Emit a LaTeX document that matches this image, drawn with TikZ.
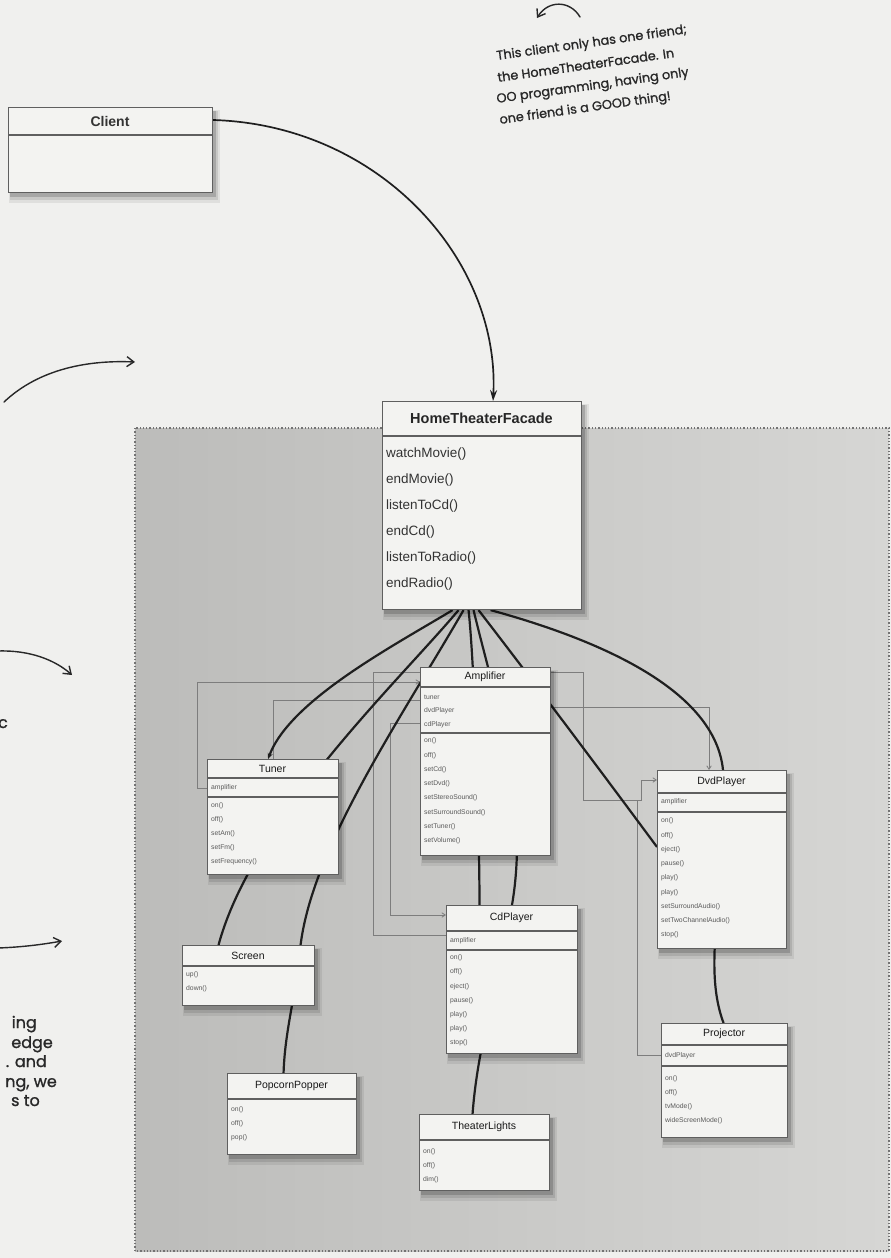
\documentclass[tikz,border=0pt]{standalone}
\usepackage{fontspec}
\setmainfont{Liberation Sans}
\newfontfamily\handfont[FakeBold=1.2]{Poppins}
\usetikzlibrary{arrows.meta,calc}
\definecolor{pagebg}{RGB}{240,240,238}
\definecolor{panelL}{RGB}{188,188,186}
\definecolor{panelR}{RGB}{214,214,212}
\definecolor{boxfill}{RGB}{243,243,241}
\definecolor{boxline}{RGB}{95,95,95}
\definecolor{depline}{RGB}{125,125,125}
\definecolor{inkc}{RGB}{40,40,40}
\pgfdeclarelayer{bg}
\pgfdeclarelayer{conn}
\pgfsetlayers{bg,conn,main}

% #1 name, #2 x, #3 y(top), #4 width, #5 height, #6 header height, #7 title, #8 title style
\newcommand\mkclass[8]{%
  \fill[black, opacity=0.07] ({#2+1},{#3+3}) rectangle ({#2+#4+8},{#3+#5+11});
  \fill[black, opacity=0.10] ({#2+2},{#3+4}) rectangle ({#2+#4+6},{#3+#5+8});
  \fill[black, opacity=0.16] ({#2+2},{#3+4}) rectangle ({#2+#4+4},{#3+#5+5});
  \node[ubox, anchor=north west, minimum width=#4pt, minimum height=#5pt] (#1) at (#2,#3) {};
  \node[#8] (#1-t) at ({#2+#4/2},{#3+#6/2}) {#7};
  \draw[sepline] (#2,{#3+#6}) -- ({#2+#4},{#3+#6});
}
\newcommand\mkmem[6]{%
  \foreach \m [count=\i] in {#6} \node[#5] (#1-\i) at (#2,{#3+(\i-1)*#4}) {\m};
}

\begin{document}
\begin{tikzpicture}[x=1pt,y=-1pt,
  ubox/.style={draw=boxline, line width=1.1pt, fill=boxfill, rectangle, inner sep=0pt},
  sepline/.style={draw=boxline, line width=1.1pt},
  stitle/.style={inner sep=0pt, font=\fontsize{10.5}{11}\selectfont, text=black!90},
  btitle/.style={inner sep=0pt, font=\fontsize{14.5}{15}\bfseries\selectfont, text=black!85},
  ctitle/.style={inner sep=0pt, font=\fontsize{14}{15}\bfseries\selectfont, text=black!80},
  mem/.style={anchor=west, inner sep=0pt, font=\fontsize{6.8}{7}\selectfont, text=black!65},
  fmem/.style={anchor=west, inner sep=0pt, font=\fontsize{13.5}{14}\selectfont, text=black!80},
  assoc/.style={draw=black!88, line width=2.2pt},
  dep/.style={draw=depline, line width=0.8pt},
  deparr/.style={dep, -{Straight Barb[length=3.5pt,width=4.5pt]}},
  handarr/.style={draw=inkc, line width=1.4pt, line cap=round, -{Straight Barb[length=7pt,width=10pt,line width=1.4pt]}},
  hand/.style={inner sep=0pt, font=\handfont\fontsize{12.8}{14}\selectfont, text=inkc, rotate=8, anchor=base west},
  handbig/.style={inner sep=0pt, font=\handfont\fontsize{16}{17}\selectfont, text=inkc, anchor=base east}
]
\useasboundingbox (0,0) rectangle (891,1258);
\begin{pgfonlayer}{bg}
  \fill[pagebg] (0,0) rectangle (891,1258);
  \shade[left color=panelL, right color=panelR] (135,428) rectangle (889,1251);
  \draw[black!55, line width=1.3pt, dotted] (135,428) rectangle (889,1251);
\end{pgfonlayer}

% ---------- classes ----------
\mkclass{client}{8}{107}{204}{85}{28}{Client}{ctitle}
\mkclass{fac}{382}{401}{199}{208}{35}{HomeTheaterFacade}{btitle}
\mkmem{fac-m}{386}{454}{26}{fmem}{watchMovie(),endMovie(),listenToCd(),endCd(),listenToRadio(),endRadio()}

\mkclass{amp}{420}{667}{130}{188}{20}{Amplifier}{stitle}
\mkmem{amp-a}{424}{697}{14}{mem}{tuner,dvdPlayer,cdPlayer}
\draw[sepline] (420,733) -- (550,733);
\mkmem{amp-m}{424}{741}{14.3}{mem}{on(),off(),setCd(),setDvd(),setStereoSound(),setSurroundSound(),setTuner(),setVolume()}

\mkclass{tuner}{207}{759}{131}{115}{19}{Tuner}{stitle}
\mkmem{tuner-a}{211}{788}{14}{mem}{amplifier}
\draw[sepline] (207,797) -- (338,797);
\mkmem{tuner-m}{211}{806}{14}{mem}{on(),off(),setAm(),setFm(),setFrequency()}

\mkclass{dvd}{657}{770}{129}{178}{23}{DvdPlayer}{stitle}
\mkmem{dvd-a}{661}{802}{14}{mem}{amplifier}
\draw[sepline] (657,812) -- (786,812);
\mkmem{dvd-m}{661}{821}{14.25}{mem}{on(),off(),eject(),pause(),play(),play(),setSurroundAudio(),setTwoChannelAudio(),stop()}

\mkclass{cd}{446}{905}{131}{148}{26}{CdPlayer}{stitle}
\mkmem{cd-a}{450}{941}{14}{mem}{amplifier}
\draw[sepline] (446,950) -- (577,950);
\mkmem{cd-m}{450}{958}{14.2}{mem}{on(),off(),eject(),pause(),play(),play(),stop()}

\mkclass{screen}{182}{945}{132}{60}{21}{Screen}{stitle}
\mkmem{screen-m}{186}{975}{14}{mem}{up(),down()}

\mkclass{pop}{227}{1073}{129}{81}{26}{PopcornPopper}{stitle}
\mkmem{pop-m}{231}{1110}{14}{mem}{on(),off(),pop()}

\mkclass{lights}{419}{1114}{130}{76}{26}{TheaterLights}{stitle}
\mkmem{lights-m}{423}{1152}{14}{mem}{on(),off(),dim()}

\mkclass{proj}{661}{1023}{126}{114}{22}{Projector}{stitle}
\mkmem{proj-a}{665}{1056}{14}{mem}{dvdPlayer}
\draw[sepline] (661,1066) -- (787,1066);
\mkmem{proj-m}{665}{1079}{14}{mem}{on(),off(),tvMode(),wideScreenMode()}

% ---------- connectors ----------
\begin{pgfonlayer}{conn}
  % thin dependency lines
  \draw[deparr] ($(tuner.north west)+(0,29)$) -- ++(-10,0) |- ($(amp.north west)+(0,15)$);
  \draw[dep] ($(amp.north west)+(0,33)$) -| (tuner.north);
  \draw[dep] ($(cd.north west)+(0,30)$) -- ++(-73,0) |- ($(amp.north west)+(0,5)$);
  \draw[deparr] ($(amp.north west)+(0,56)$) -- ++(-30,0) |- ($(cd.north west)+(0,10)$);
  \draw[deparr] ($(amp.north east)+(0,5)$) -- ++(32,0) -- ++(0,128) -- ++(58,0) |- ($(dvd.north west)+(0,10)$);
  \draw[deparr] ($(amp.north east)+(0,40)$) -| ([xshift=-13pt]dvd.north);
  \draw[dep] ($(proj.north west)+(0,32)$) -- ++(-24,0) -- ++(0,-255) coordinate (projend);

  % client to facade
  \draw[assoc, line width=1.7pt, -{Stealth[length=11pt,width=7pt]}] ($(client.north east)+(0,13)$) .. controls (380,125) and (500,260) .. ([xshift=11pt]fac.north);

  % facade associations
  \draw[assoc, -{Stealth[length=6pt,width=5pt]}] ([xshift=-29.5pt]fac.south) .. controls (395,645) and (290,700) .. ([xshift=-5pt]tuner.north);
  \draw[assoc] ([xshift=-23.5pt]fac.south) .. controls (400,680) and (252,820) .. ([xshift=-30pt]screen.north);
  \draw[assoc] ([xshift=-18.5pt]fac.south) .. controls (400,720) and (310,850) .. (300,950) .. controls (295,1000) and (285,1030) .. ([xshift=-8.5pt]pop.north);
  \draw[assoc] ([xshift=-13.5pt]fac.south) .. controls (474,660) and (479,800) .. ([xshift=-32.5pt]cd.north);
  \draw[assoc] ([xshift=-8.5pt]fac.south) .. controls (495,700) and (530,800) .. (512,905) .. controls (500,980) and (478,1040) .. ([xshift=-12pt]lights.north);
  \draw[assoc] ([xshift=-3.5pt]fac.south) .. controls (540,690) and (600,770) .. ($(dvd.north west)+(0,77)$);
  \draw[assoc] ([xshift=8.5pt]fac.south) .. controls (600,640) and (715,690) .. (723,770) .. controls (730,880) and (700,960) .. ([xshift=-1pt]proj.north);
\end{pgfonlayer}

% ---------- handwritten notes ----------
\node[hand] (note1) at (497,60) {This client only has one friend;};
\node[hand] (note2) at (498,82) {the HomeTheaterFacade. In};
\node[hand] (note3) at (497,103) {OO programming, having only};
\node[hand] (note4) at (500,124) {one friend is a GOOD thing!};
\coordinate (ta1) at (580,17);
\coordinate (ta2) at (537,18);
\draw[handarr] (ta1) .. controls (570,0) and (548,0) .. (ta2);

\coordinate (la1s) at (4,402);
\coordinate (la1e) at (135,362);
\draw[handarr] (la1s) .. controls (40,368) and (90,360) .. (la1e);
\coordinate (la2s) at (-2,651);
\coordinate (la2e) at (72,675);
\draw[handarr] (la2s) .. controls (30,650) and (55,660) .. (la2e);
\coordinate (la3s) at (-2,948);
\coordinate (la3e) at (62,941);
\draw[handarr] (la3s) .. controls (25,947) and (45,944) .. (la3e);

\node[handbig] (lt0) at (8,728) {c};
\node[handbig] (lt1) at (37,1028) {ing};
\node[handbig] (lt2) at (53,1048) {edge};
\node[handbig] (lt3) at (47,1067) {. and};
\node[handbig] (lt4) at (57,1087) {ng, we};
\node[handbig] (lt5) at (40,1106) {s to};
\end{tikzpicture}
\end{document}
